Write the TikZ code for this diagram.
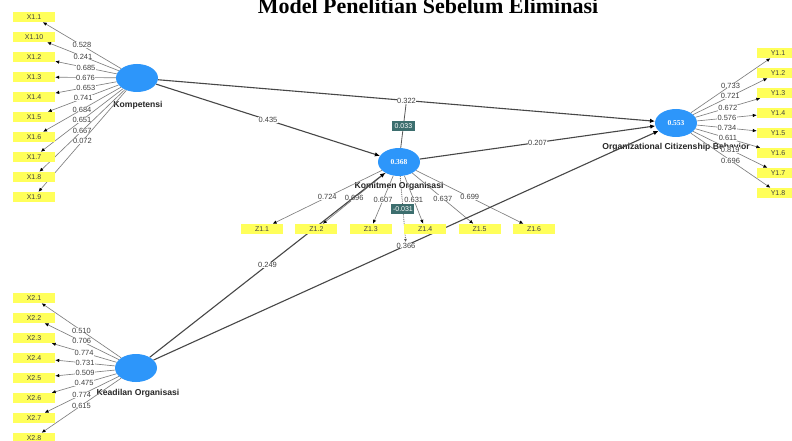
\documentclass[tikz,border=0pt]{standalone}
\usepackage{fontspec}
\setmainfont{Liberation Serif}
\setsansfont{Liberation Sans}
\usetikzlibrary{shapes.geometric,arrows.meta}
\definecolor{latblue}{RGB}{45,150,250}
\definecolor{indyel}{RGB}{255,255,90}
\definecolor{modteal}{RGB}{60,110,110}
\pgfdeclarelayer{bglayer}
\pgfdeclarelayer{lbllayer}
\pgfdeclarelayer{edgelayer}
\pgfsetlayers{bglayer,lbllayer,edgelayer,main}
\tikzset{
  latent/.style={ellipse, fill=latblue, minimum width=42pt, minimum height=28pt, inner sep=0pt, text=white, font=\bfseries\fontsize{7.5}{8}\selectfont},
  ind/.style={rectangle, fill=indyel, minimum width=42pt, minimum height=10pt, inner sep=0pt, font=\sffamily\fontsize{7}{7}\selectfont, text=black!75},
  latlabel/.style={font=\sffamily\bfseries\fontsize{8.6}{9}\selectfont, text=black!85, inner sep=0pt},
  lv/.style={fill=white, inner sep=0.3pt, font=\sffamily\fontsize{7.5}{8}\selectfont, text=black!75, pos=0.5},
  loadarr/.style={draw=black!50, line width=0.65pt, -{Latex[length=4pt,width=3.5pt,color=black]}},
  patharr/.style={draw=black!72, line width=1.1pt, -{Latex[length=5pt,width=4.5pt,color=black]}},
  modline/.style={draw=black!65, line width=0.8pt},
  modbox/.style={fill=modteal, text=white, inner sep=1pt, font=\sffamily\fontsize{7}{7}\selectfont, minimum width=23pt, minimum height=10pt, pos=0.5}
}
\begin{document}
\begin{tikzpicture}[x=1pt,y=-1pt]
\useasboundingbox (0,0) rectangle (792,441);
\clip (0,0) rectangle (792,441);
\begin{pgfonlayer}{bglayer}
\fill[white] (0,0) rectangle (792,441);
\end{pgfonlayer}

\node[font=\bfseries\fontsize{22}{22}\selectfont, anchor=base, inner sep=0pt] (title) at (428,14) {Model Penelitian Sebelum Eliminasi};

% latent variables
\node[latent] (kom) at (137,78) {};
\node[latent] (kea) at (136,368) {};
\node[latent] (kmt) at (399,162) {0.368};
\node[latent] (ocb) at (676,123) {0.553};

\begin{pgfonlayer}{lbllayer}
\node[latlabel] (komL) at (138,105) {Kompetensi};
\node[latlabel] (keaL) at (138,393) {Keadilan Organisasi};
\node[latlabel] (kmtL) at (399,186) {Komitmen Organisasi};
\node[latlabel] (ocbL) at (676,147) {Organizational Citizenship Behavior};
\end{pgfonlayer}

% indicators
\foreach \t [count=\i from 0] in {X1.1,X1.10,X1.2,X1.3,X1.4,X1.5,X1.6,X1.7,X1.8,X1.9}
  \node[ind] (xa-\i) at (34,17+20*\i) {\t};
\foreach \t [count=\i from 0] in {X2.1,X2.2,X2.3,X2.4,X2.5,X2.6,X2.7,X2.8}
  \node[ind] (xb-\i) at (34,298+20*\i) {\t};
\foreach \t [count=\i from 0] in {Z1.1,Z1.2,Z1.3,Z1.4,Z1.5,Z1.6}
  \node[ind] (z-\i) at (262+54.4*\i,229) {\t};
\foreach \t [count=\i from 0] in {Y1.1,Y1.2,Y1.3,Y1.4,Y1.5,Y1.6,Y1.7,Y1.8}
  \node[ind] (y-\i) at (778,53+20*\i) {\t};

\begin{pgfonlayer}{edgelayer}
\foreach \v [count=\i from 0] in {0.528,0.241,0.685,0.676,0.653,0.741,0.684,0.651,0.667,0.072}
  \draw[loadarr] (kom) -- node[lv]{\v} (xa-\i);
\foreach \v [count=\i from 0] in {0.510,0.706,0.774,0.731,0.509,0.475,0.774,0.615}
  \draw[loadarr] (kea) -- node[lv]{\v} (xb-\i);
\foreach \v [count=\i from 0] in {0.724,0.696,0.607,0.631,0.637,0.699}
  \draw[loadarr] (kmt) -- node[lv]{\v} (z-\i);
\foreach \v [count=\i from 0] in {0.733,0.721,0.672,0.576,0.734,0.611,0.819,0.696}
  \draw[loadarr] (ocb) -- node[lv]{\v} (y-\i);

\draw[patharr] (kom) -- node[lv] (p435) {0.435} (kmt);
\draw[patharr] (kom) -- node[lv] (p322) {0.322} (ocb);
\draw[patharr] (kmt) -- node[lv] (p207) {0.207} (ocb);
\draw[patharr] (kea) -- node[lv] (p249) {0.249} (kmt);
\draw[patharr] (kea) -- node[lv] (p366) {0.366} (ocb);

\draw[modline] (p322) -- node[modbox] (m033) {0.033} (kmt);
\draw[modline, densely dotted, -{Latex[length=3pt,width=3pt,open]}] (kmt) -- node[modbox] (m031) {-0.031} (p366);
\end{pgfonlayer}
\end{tikzpicture}
\end{document}
